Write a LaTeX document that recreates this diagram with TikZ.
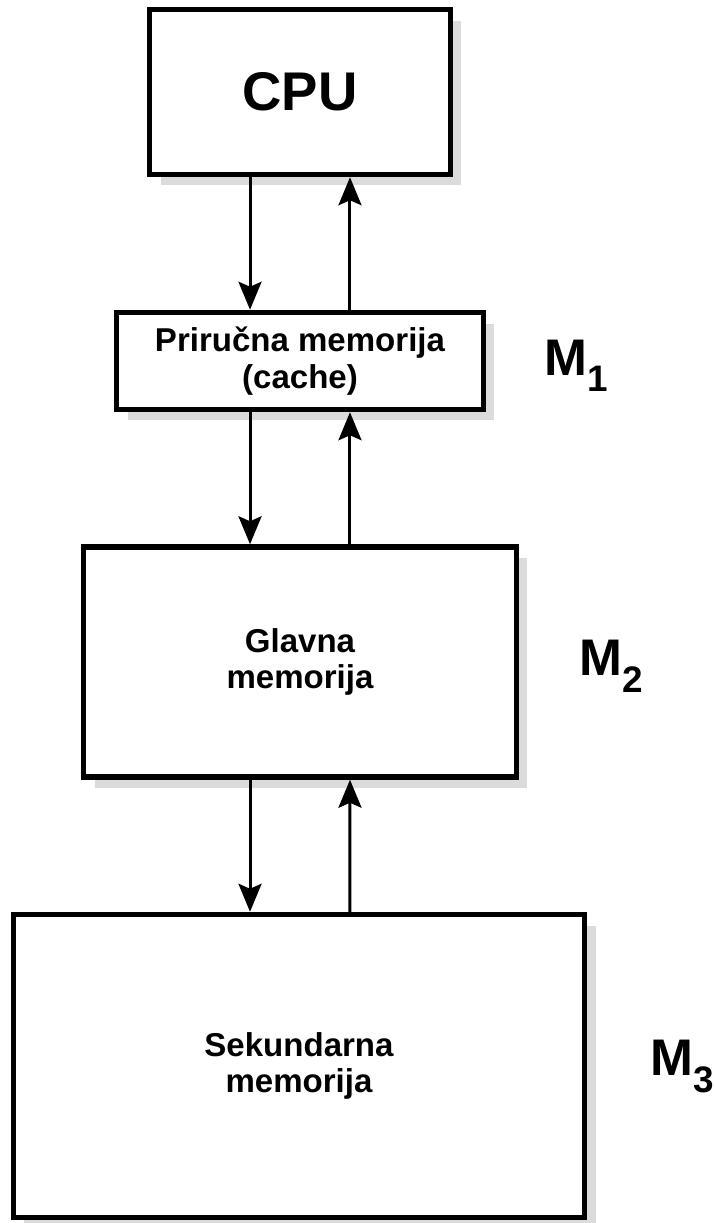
\documentclass[tikz,border=0pt]{standalone}
\usepackage{fontspec}
\setmainfont{Liberation Sans}
\usetikzlibrary{arrows.meta,shadows}

\tikzset{
  mem/.style={draw, line width=0.11cm, fill=white, align=center, inner sep=0pt,
    font=\fontsize{18.8pt}{20.5pt}\selectfont\bfseries,
    drop shadow={shadow xshift=0.22cm, shadow yshift=-0.22cm, fill=black!14, opacity=1}},
  flow/.style={line width=0.06cm, -{Stealth[length=0.56cm,width=0.46cm,inset=0.1cm]}},
  level/.style={anchor=base west, inner sep=0pt, font=\fontsize{29.3pt}{30pt}\selectfont\bfseries}
}
\newcommand{\memlevel}[1]{M\raisebox{-0.34cm}{\fontsize{21pt}{21pt}\selectfont #1}}

\begin{document}
\begin{tikzpicture}[x=0.02cm, y=-0.02cm]
  \useasboundingbox (0,0) rectangle (715,1223);
  %hierarchy
  \node [mem, minimum width=6.02cm, minimum height=3.3cm, font=\fontsize{31pt}{31pt}\selectfont\bfseries] (cpu) at (300,92) {CPU};
  \node [mem, minimum width=7.34cm, minimum height=1.94cm, font=\fontsize{18.8pt}{21.5pt}\selectfont\bfseries] (cache) at (300,361) {Priručna memorija\\(cache)};
  \node [mem, minimum width=8.66cm, minimum height=4.6cm] (main) at (300,662) {Glavna\\memorija};
  \node [mem, minimum width=11.43cm, minimum height=6.06cm] (disk) at (299,1066) {Sekundarna\\memorija};
  %levels
  \node [level] (m1) at (544,375) {\memlevel{1}};
  \node [level] (m2) at (579,675) {\memlevel{2}};
  \node [level] (m3) at (650,1075) {\memlevel{3}};
  %down / up
  \draw [flow] ([xshift=-1cm]cpu.south) -- ([xshift=-1cm]cache.north);
  \draw [flow] ([xshift=1cm]cache.north) -- ([xshift=1cm]cpu.south);
  \draw [flow] ([xshift=-1cm]cache.south) -- ([xshift=-1cm]main.north);
  \draw [flow] ([xshift=1cm]main.north) -- ([xshift=1cm]cache.south);
  \draw [flow] ([xshift=-1cm]main.south) -- ([xshift=-0.98cm]disk.north);
  \draw [flow] ([xshift=1.02cm]disk.north) -- ([xshift=1cm]main.south);
\end{tikzpicture}
\end{document}
